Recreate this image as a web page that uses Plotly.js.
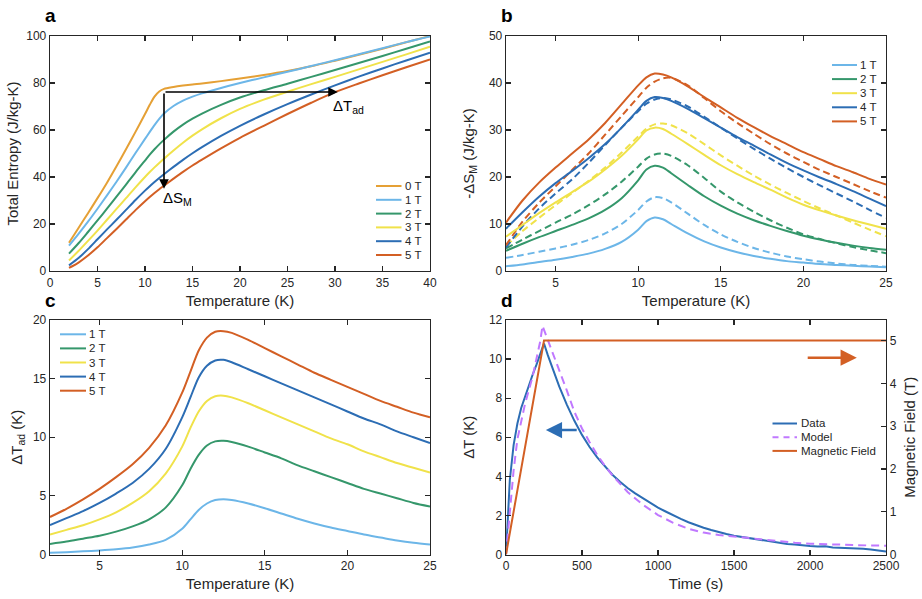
<!DOCTYPE html>
<html>
<head>
<meta charset="utf-8">
<script src="https://cdn.plot.ly/plotly-3.0.1.min.js"></script>
<style>
  html, body { margin: 0; padding: 0; background: #ffffff; }
  #fig { width: 922px; height: 599px; }
</style>
</head>
<body>
<div id="fig"></div>
<script>
// ---------- Panel a: total entropy vs temperature ----------
const tempA = [2, 3, 4, 5, 6, 7, 8, 9, 10, 10.5, 11, 11.5, 12, 13, 14, 15, 16, 18, 20, 22.5, 25, 27.5, 30, 32.5, 35, 37.5, 40];
const entropy0T = [12, 18.3, 24.6, 31, 37.6, 44.6, 51.8, 59.2, 66.8, 70.7, 74.2, 76.4, 77.5, 78.3, 78.9, 79.4, 79.8, 80.8, 81.9, 83.4, 85.1, 87.1, 89.5, 92, 94.6, 97.3, 100];
const entropy1T = [10.8, 15.8, 21, 26.5, 32.2, 38, 44, 50.2, 56.2, 59.2, 62.1, 64.7, 67, 70.2, 72.5, 74.2, 75.6, 77.9, 80, 82.4, 84.8, 87.2, 89.7, 92.2, 94.8, 97.4, 99.8];
const entropy2T = [7.4, 11.8, 16.6, 21.5, 26.5, 31.6, 36.8, 42, 47, 49.5, 51.8, 53.9, 55.8, 59.3, 62.3, 64.8, 67, 70.7, 73.8, 76.9, 79.7, 82.6, 85.5, 88.5, 91.5, 94.6, 97.7];
const entropy3T = [4.5, 8.5, 12.8, 17.2, 21.8, 26.4, 31, 35.6, 40, 42.1, 44.1, 46, 47.8, 51.3, 54.6, 57.6, 60.3, 65, 69, 72.9, 76.3, 79.5, 82.6, 85.8, 89, 92.2, 95.4];
const entropy4T = [2.4, 5.5, 9.3, 13.5, 17.7, 21.8, 26, 30.2, 34.2, 36.1, 37.9, 39.6, 41.2, 44.3, 47.3, 50.1, 52.7, 57.5, 61.8, 66.6, 71, 75.1, 79, 82.7, 86.2, 89.6, 92.9];
const entropy5T = [1.3, 3.6, 6.6, 10.1, 14, 17.9, 21.9, 25.9, 29.7, 31.5, 33.2, 34.8, 36.3, 39.3, 42.2, 44.9, 47.4, 52.2, 56.7, 61.8, 66.8, 71.6, 76.1, 79.8, 83.3, 86.7, 90];
const fieldLabelsA = ['0 T', '1 T', '2 T', '3 T', '4 T', '5 T'];

// ---------- Panel b: isothermal entropy change, measured (solid) and modelled (dashed) ----------
const tempB = [2, 3, 4, 5, 6, 7, 8, 9, 10, 10.5, 11, 11.5, 12, 13, 14, 15, 16, 17, 18, 19, 20, 21, 22, 23, 24, 25];
const dS1T = [1, 1.4, 1.9, 2.4, 3, 3.7, 4.7, 6.2, 8.8, 10.6, 11.4, 11, 10, 8, 6.3, 5, 4, 3.2, 2.6, 2.1, 1.8, 1.5, 1.3, 1.1, 0.95, 0.8];
const dS2T = [4.3, 5.8, 7.2, 8.5, 9.8, 11.2, 13, 15.5, 19.3, 21.6, 22.4, 22, 20.8, 18.3, 15.9, 13.9, 12.2, 10.8, 9.6, 8.5, 7.5, 6.7, 6, 5.4, 4.9, 4.5];
const dS3T = [7.3, 9.8, 12.3, 14.6, 16.8, 19, 21.6, 24.5, 28, 29.9, 30.5, 30.2, 29.2, 27, 24.7, 22.5, 20.6, 18.9, 17.3, 15.6, 14.1, 12.9, 11.8, 10.8, 9.9, 9];
const dS4T = [9, 12.5, 15.8, 18.7, 21.3, 24, 27, 30.5, 34.3, 36.2, 37, 36.8, 36.2, 34.5, 32.5, 30.5, 28.5, 26.7, 24.8, 23, 21.4, 19.9, 18.5, 17, 15.4, 13.8];
const dS5T = [10.3, 15, 18.8, 22, 25, 28, 31.5, 35.5, 39.5, 41.2, 42, 41.8, 41.2, 39.3, 37, 34.8, 32.6, 30.6, 28.7, 27, 25.3, 23.8, 22.3, 21, 19.6, 18.4];
const dSModel1T = [2.8, 3.4, 4.1, 4.8, 5.6, 6.6, 8, 10, 13, 14.8, 15.7, 15.5, 14.6, 12.2, 9.8, 7.8, 6.2, 4.9, 3.9, 3.1, 2.5, 2, 1.6, 1.3, 1.1, 0.9];
const dSModel2T = [4.8, 6.7, 8.5, 10.3, 12, 14, 16.3, 19, 22.2, 23.9, 24.8, 25, 24.5, 22.5, 19.8, 16.9, 14.6, 12.6, 10.8, 9.2, 7.8, 6.8, 5.9, 5.1, 4.4, 3.8];
const dSModel3T = [5.3, 8.5, 11.3, 14, 16.6, 19.2, 22, 25.2, 28.6, 30.3, 31.2, 31.4, 31, 29.3, 27, 24.6, 22.4, 20.3, 18.4, 16.6, 14.9, 13.3, 11.8, 10.3, 8.8, 7.4];
const dSModel4T = [5, 9.5, 13.3, 16.5, 19.5, 23, 26.8, 30.5, 34, 35.6, 36.5, 36.8, 36.5, 35, 32.8, 30.5, 28.2, 26, 23.9, 21.9, 20, 18.2, 16.5, 14.8, 13, 11.3];
const dSModel5T = [5.5, 10.5, 14.5, 18, 21.5, 25, 29, 33, 37, 39, 40.3, 41, 41.1, 39.5, 36.8, 34, 31.5, 29.2, 27, 25, 23.2, 21.5, 20, 18.5, 17, 15.6];
const fieldLabelsB = ['1 T', '2 T', '3 T', '4 T', '5 T'];

// ---------- Panel c: adiabatic temperature change ----------
const tempC = [2, 3, 4, 5, 6, 7, 8, 9, 10, 10.5, 11, 11.5, 12, 12.5, 13, 14, 15, 16, 17, 18, 19, 20, 21, 22, 23, 24, 25];
const dTad1T = [0.15, 0.2, 0.27, 0.35, 0.45, 0.6, 0.85, 1.25, 2.2, 3, 3.8, 4.35, 4.65, 4.72, 4.65, 4.35, 3.95, 3.5, 3.05, 2.65, 2.3, 2, 1.7, 1.45, 1.2, 1, 0.85];
const dTad2T = [0.9, 1.1, 1.35, 1.6, 1.95, 2.4, 3, 4, 5.9, 7.3, 8.5, 9.3, 9.65, 9.7, 9.6, 9.2, 8.7, 8.2, 7.6, 7.1, 6.6, 6.1, 5.6, 5.2, 4.8, 4.4, 4.1];
const dTad3T = [1.7, 2.1, 2.5, 3, 3.6, 4.4, 5.4, 6.9, 9.2, 10.8, 12.2, 13.1, 13.5, 13.55, 13.4, 12.9, 12.3, 11.7, 11.1, 10.5, 9.9, 9.4, 8.8, 8.3, 7.8, 7.4, 7];
const dTad4T = [2.5, 3.1, 3.7, 4.4, 5.2, 6.1, 7.3, 9, 11.7, 13.4, 15.1, 16.1, 16.55, 16.6, 16.4, 15.8, 15.2, 14.6, 14, 13.4, 12.8, 12.2, 11.6, 11.1, 10.5, 10, 9.5];
const dTad5T = [3.2, 3.9, 4.7, 5.6, 6.6, 7.7, 9.1, 11, 13.8, 15.6, 17.4, 18.5, 19, 19.05, 18.9, 18.3, 17.6, 16.9, 16.2, 15.5, 14.9, 14.3, 13.7, 13.1, 12.6, 12.1, 11.7];
const fieldLabelsC = ['1 T', '2 T', '3 T', '4 T', '5 T'];

// ---------- Panel d: temperature response to a field ramp ----------
const timeData = [0, 10, 25, 50, 75, 100, 125, 150, 175, 200, 225, 250, 275, 300, 350, 400, 450, 500, 550, 600, 650, 700, 750, 800, 850, 900, 950, 1000,
  1050, 1100, 1150, 1200, 1250, 1300, 1350, 1400, 1450, 1500, 1550, 1600, 1650, 1700, 1750, 1800, 1850, 1900, 1950, 2000,
  2050, 2100, 2150, 2200, 2250, 2300, 2350, 2400, 2450, 2500];
const deltaTData = [0, 1.8, 3.8, 5.6, 6.7, 7.5, 8.1, 8.7, 9.2, 9.7, 10.2, 10.8, 10.2, 9.63, 8.6, 7.67, 6.84, 6.12, 5.5, 4.97, 4.5, 4.08, 3.72, 3.4, 3.13, 2.88, 2.63, 2.4,
  2.2, 2.0, 1.82, 1.65, 1.5, 1.37, 1.25, 1.14, 1.05, 0.96, 0.9, 0.82, 0.77, 0.71, 0.66, 0.6, 0.54, 0.51, 0.46, 0.43,
  0.41, 0.42, 0.36, 0.34, 0.35, 0.3, 0.3, 0.25, 0.21, 0.15];
const timeModel = [0, 25, 50, 75, 100, 125, 150, 175, 200, 225, 240, 260, 300, 350, 400, 450, 500, 550, 600, 650, 700, 800, 900, 1000,
  1100, 1200, 1300, 1400, 1500, 1600, 1700, 1800, 1900, 2000, 2100, 2200, 2300, 2400, 2500];
const deltaTModel = [0, 2.3, 4.3, 5.9, 6.9, 7.7, 8.4, 9.1, 10, 10.9, 11.7, 11.3, 10.5, 9.5, 8.4, 7.3, 6.45, 5.75, 5.1, 4.55, 4.05, 3.2, 2.55, 2.02,
  1.62, 1.32, 1.12, 1, 0.92, 0.82, 0.73, 0.66, 0.6, 0.55, 0.52, 0.49, 0.47, 0.46, 0.45];
const timeField = [0, 250, 2500];
const magneticField = [0, 5, 5];
const seriesLabelsD = ['Data', 'Model', 'Magnetic Field'];

// ---------- styling ----------
const FONT = 'Liberation Sans, Arial, Helvetica, sans-serif';
const INK = '#262626';
const fieldColors = {
  '0 T': '#E5A035', '1 T': '#6CB6E8', '2 T': '#35976B',
  '3 T': '#F0E24A', '4 T': '#2C6DB4', '5 T': '#D35F24'
};
const dataColor = '#2C6DB4';
const modelColor = '#C078FF';
const fieldColor = '#D35F24';

const W = 922, H = 599;
const px = v => v / W;           // horizontal pixel -> paper
const py = v => 1 - v / H;       // vertical pixel -> paper

const colLeft = [px(50), px(430)];
const colRight = [px(506), px(886)];
const rowTop = [py(271), py(36)];
const rowBottom = [py(554.5), py(320)];

function axis(extra) {
  return Object.assign({
    showline: true, linecolor: INK, linewidth: 1.3, mirror: 'ticks',
    ticks: 'inside', ticklen: 5, tickwidth: 1.2, tickcolor: INK,
    showgrid: false, zeroline: false, automargin: false, fixedrange: true,
    tickfont: { family: FONT, size: 12, color: INK }
  }, extra);
}
function title(text, standoff) {
  return { text: text, font: { family: FONT, size: 15, color: INK }, standoff: standoff };
}

const traces = [];
function curve(x, y, label, xa, ya, dash) {
  traces.push({
    type: 'scatter', mode: 'lines', x: x, y: y, name: label,
    xaxis: xa, yaxis: ya, showlegend: false, hoverinfo: 'skip',
    line: { color: fieldColors[label], width: 2, shape: 'spline', smoothing: 0.8, dash: dash || 'solid' }
  });
}

// panel a
[entropy0T, entropy1T, entropy2T, entropy3T, entropy4T, entropy5T].forEach((s, i) =>
  curve(tempA, s, fieldLabelsA[i], 'x', 'y'));

// panel b: model first (dashed), measured on top
[dSModel1T, dSModel2T, dSModel3T, dSModel4T, dSModel5T].forEach((s, i) =>
  curve(tempB, s, fieldLabelsB[i], 'x2', 'y2', '7px,4px'));
[dS1T, dS2T, dS3T, dS4T, dS5T].forEach((s, i) =>
  curve(tempB, s, fieldLabelsB[i], 'x2', 'y2'));

// panel c
[dTad1T, dTad2T, dTad3T, dTad4T, dTad5T].forEach((s, i) =>
  curve(tempC, s, fieldLabelsC[i], 'x3', 'y3'));

// panel d
traces.push({
  type: 'scatter', mode: 'lines', x: timeField, y: magneticField, name: seriesLabelsD[2],
  xaxis: 'x4', yaxis: 'y5', showlegend: false, hoverinfo: 'skip',
  line: { color: fieldColor, width: 2 }
});
traces.push({
  type: 'scatter', mode: 'lines', x: timeData, y: deltaTData, name: seriesLabelsD[0],
  xaxis: 'x4', yaxis: 'y4', showlegend: false, hoverinfo: 'skip',
  line: { color: dataColor, width: 2 }
});
traces.push({
  type: 'scatter', mode: 'lines', x: timeModel, y: deltaTModel, name: seriesLabelsD[1],
  xaxis: 'x4', yaxis: 'y4', showlegend: false, hoverinfo: 'skip',
  line: { color: modelColor, width: 2, dash: '8px,5px' }
});

// ---------- compact legends: short line sample + label ----------
const shapes = [];
const annotations = [];
function legendBox(labels, colors, dashes, lineX0, lineX1, textX, firstRowY, rowGap) {
  labels.forEach((lab, i) => {
    const yy = py(firstRowY + i * rowGap);
    shapes.push({
      type: 'line', xref: 'paper', yref: 'paper',
      x0: px(lineX0), x1: px(lineX1), y0: yy, y1: yy,
      line: { color: colors[i], width: 2, dash: dashes ? dashes[i] : 'solid' }
    });
    annotations.push({
      xref: 'paper', yref: 'paper', x: px(textX), y: yy, xanchor: 'left', yanchor: 'middle',
      text: lab, showarrow: false, font: { family: FONT, size: 11.5, color: INK }
    });
  });
}
legendBox(fieldLabelsA, fieldLabelsA.map(l => fieldColors[l]), null, 376, 401.5, 402.5, 186, 13.8);
legendBox(fieldLabelsB, fieldLabelsB.map(l => fieldColors[l]), null, 832, 857, 858, 65, 14.1);
legendBox(fieldLabelsC, fieldLabelsC.map(l => fieldColors[l]), null, 60, 86, 87, 334.3, 14.1);
legendBox(seriesLabelsD, [dataColor, modelColor, fieldColor], ['solid', '6px,5px', 'solid'], 772.5, 797, 798.5, 423.5, 13.7);

// panel letters
[['a', 50, 15], ['b', 507, 15], ['c', 50, 300], ['d', 507, 300]].forEach(([t, x, y]) => {
  annotations.push({
    xref: 'paper', yref: 'paper', x: px(x), y: py(y), xanchor: 'center', yanchor: 'middle',
    text: '<b>' + t + '</b>', showarrow: false, font: { family: FONT, size: 19, color: '#000' }
  });
});

// panel a arrows and labels
annotations.push({
  xref: 'x', yref: 'y', axref: 'x', ayref: 'y', x: 30.3, y: 76.2, ax: 12, ay: 76.2,
  text: '', showarrow: true, arrowhead: 2, arrowsize: 1.2, arrowwidth: 1.6, arrowcolor: '#000'
});
annotations.push({
  xref: 'x', yref: 'y', axref: 'x', ayref: 'y', x: 12, y: 35, ax: 12, ay: 76.2,
  text: '', showarrow: true, arrowhead: 2, arrowsize: 1.2, arrowwidth: 1.6, arrowcolor: '#000'
});
annotations.push({
  xref: 'x', yref: 'y', x: 29.6, y: 70, xanchor: 'left', yanchor: 'middle', showarrow: false,
  text: 'ΔT<sub>ad</sub>', font: { family: FONT, size: 15, color: '#000' }
});
annotations.push({
  xref: 'x', yref: 'y', x: 11.7, y: 31, xanchor: 'left', yanchor: 'middle', showarrow: false,
  text: 'ΔS<sub>M</sub>', font: { family: FONT, size: 15, color: '#000' }
});

// panel d axis-pointing arrows
annotations.push({
  xref: 'x4', yref: 'y4', axref: 'x4', ayref: 'y4', x: 262, y: 6.37, ax: 475, ay: 6.37,
  text: '', showarrow: true, arrowhead: 2, arrowsize: 1.25, arrowwidth: 2.6, arrowcolor: dataColor
});
annotations.push({
  xref: 'x4', yref: 'y4', axref: 'x4', ayref: 'y4', x: 2308, y: 10.07, ax: 1975, ay: 10.07,
  text: '', showarrow: true, arrowhead: 2, arrowsize: 1.25, arrowwidth: 2.6, arrowcolor: fieldColor
});

const layout = {
  width: W, height: H,
  margin: { l: 0, r: 0, t: 0, b: 0 },
  paper_bgcolor: '#ffffff', plot_bgcolor: '#ffffff',
  showlegend: false,
  font: { family: FONT, size: 12, color: INK },
  xaxis: axis({ domain: colLeft, anchor: 'y', range: [0, 40], dtick: 5, title: title('Temperature (K)', 6) }),
  yaxis: axis({ domain: rowTop, anchor: 'x', range: [0, 100], dtick: 20, title: title('Total Entropy (J/kg-K)', 4) }),
  xaxis2: axis({ domain: colRight, anchor: 'y2', range: [2, 25], tickvals: [5, 10, 15, 20, 25], title: title('Temperature (K)', 6) }),
  yaxis2: axis({ domain: rowTop, anchor: 'x2', range: [0, 50], dtick: 10, title: title('-ΔS<sub>M</sub> (J/kg-K)', 10) }),
  xaxis3: axis({ domain: colLeft, anchor: 'y3', range: [2, 25], tickvals: [5, 10, 15, 20, 25], title: title('Temperature (K)', 6) }),
  yaxis3: axis({ domain: rowBottom, anchor: 'x3', range: [0, 20], dtick: 5, title: title('ΔT<sub>ad</sub> (K)', 6) }),
  xaxis4: axis({ domain: colRight, anchor: 'y4', range: [0, 2500], dtick: 500, title: title('Time (s)', 6) }),
  yaxis4: axis({ domain: rowBottom, anchor: 'x4', range: [0, 12], dtick: 2, mirror: false, title: title('ΔT (K)', 10) }),
  yaxis5: axis({ domain: rowBottom, anchor: 'x4', overlaying: 'y4', side: 'right', range: [0, 5.48], dtick: 1, mirror: false, title: title('Magnetic Field (T)', 8) }),
  shapes: shapes,
  annotations: annotations
};

Plotly.newPlot('fig', traces, layout, { staticPlot: true, displayModeBar: false });
</script>
</body>
</html>
